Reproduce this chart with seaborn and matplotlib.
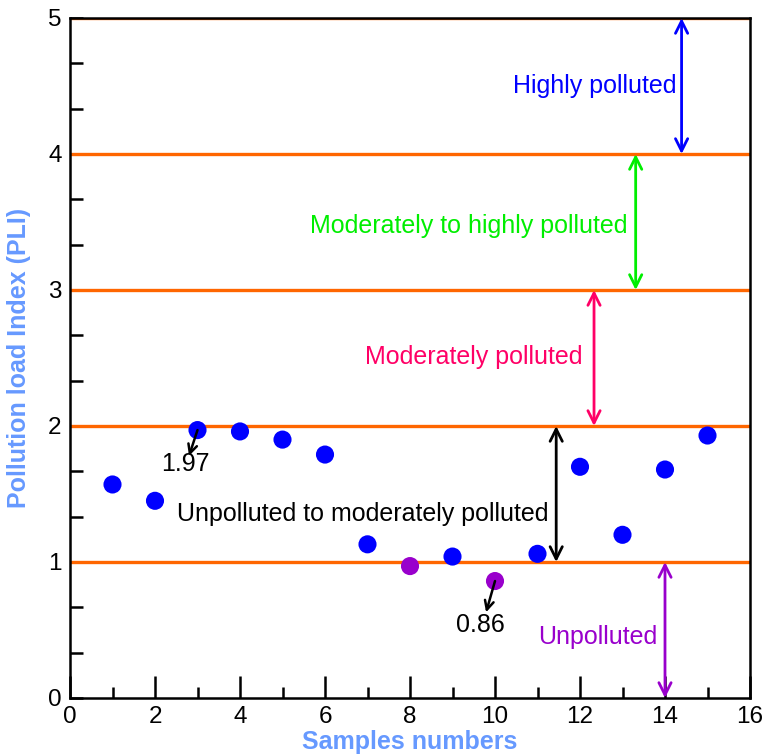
import matplotlib
matplotlib.use("Agg")
import matplotlib.pyplot as plt
import seaborn as sns
import pandas as pd
from matplotlib.ticker import MultipleLocator

# ---- data ----
samples = [1, 2, 3, 4, 5, 6, 7, 8, 9, 10, 11, 12, 13, 14, 15]
pli = [1.57, 1.45, 1.97, 1.96, 1.90, 1.79, 1.13, 0.97, 1.04, 0.86, 1.06, 1.70, 1.20, 1.68, 1.93]
status = ["polluted" if v >= 1 else "unpolluted" for v in pli]

class_bounds = [1, 2, 3, 4, 5]
class_labels = ["Unpolluted", "Unpolluted to moderately polluted", "Moderately polluted",
                "Moderately to highly polluted", "Highly polluted"]
class_ranges = [(0, 1), (1, 2), (2, 3), (3, 4), (4, 5)]
class_colors = ["#9900cc", "#000000", "#ff0066", "#00ee00", "#0000ff"]

callouts = ["1.97", "0.86"]
callout_pts = [(3, 1.97), (10, 0.86)]

# ---- layout (positions of annotations) ----
arrow_x = [14.0, 11.44, 12.33, 13.31, 14.39]
label_x = [13.81, 11.25, 12.07, 13.11, 14.26]
label_y = [0.45, 1.35, 2.51, 3.47, 4.50]
callout_heads = [(2.80, 1.78), (9.79, 0.63)]
callout_text_pos = [(2.72, 1.72), (9.65, 0.54)]

df = pd.DataFrame({"sample": samples, "pli": pli, "status": status})

sns.set_style("ticks")
plt.rcParams["font.family"] = ["Liberation Sans", "DejaVu Sans"]
plt.rcParams["text.color"] = "black"
plt.rcParams["xtick.labelcolor"] = "black"
plt.rcParams["ytick.labelcolor"] = "black"

fig = plt.figure(figsize=(7.75, 7.54), dpi=100)
ax = fig.add_axes([70 / 775, 56 / 754, 680 / 775, 680 / 754])

# class boundary lines
for b in class_bounds:
    ax.axhline(b, color="#ff6600", lw=2.4, zorder=2)

sns.scatterplot(data=df, x="sample", y="pli", hue="status",
                palette={"polluted": "#0000ff", "unpolluted": "#9900cc"},
                s=170, edgecolor="none", legend=False, zorder=4, ax=ax)

# class range arrows and labels
for (lo, hi), xa, lx, ly, lab, col in zip(class_ranges, arrow_x, label_x, label_y,
                                          class_labels, class_colors):
    ax.annotate("", xy=(xa, hi), xytext=(xa, lo),
                arrowprops=dict(arrowstyle="<->", color=col, lw=2.0,
                                mutation_scale=22, shrinkA=0, shrinkB=0),
                zorder=5)
    ax.text(lx, ly, lab, color=col, fontsize=18, ha="right", va="center", zorder=5)

# callouts: arrow from the point toward the value label
for txt, pt, head, tpos in zip(callouts, callout_pts, callout_heads, callout_text_pos):
    ax.annotate("", xy=head, xytext=pt,
                arrowprops=dict(arrowstyle="->", color="black", lw=1.8,
                                mutation_scale=16, shrinkA=0, shrinkB=0),
                zorder=6)
    ax.text(tpos[0], tpos[1], txt, fontsize=18, color="black",
            ha="center", va="center", zorder=6)

ax.set_xlim(0, 16)
ax.set_ylim(0, 5)
ax.xaxis.set_major_locator(MultipleLocator(2))
ax.xaxis.set_minor_locator(MultipleLocator(1))
ax.yaxis.set_major_locator(MultipleLocator(1))
ax.yaxis.set_minor_locator(MultipleLocator(1 / 3))
ax.tick_params(axis="both", which="both", direction="in", width=1.8, color="black",
               labelcolor="black", labelsize=17.5, pad=6)
ax.tick_params(axis="x", which="major", length=16)
ax.tick_params(axis="x", which="minor", length=8)
ax.tick_params(axis="y", which="major", length=9)
ax.tick_params(axis="y", which="minor", length=9)
for sp in ax.spines.values():
    sp.set_visible(True)
    sp.set_linewidth(1.8)
    sp.set_color("black")

ax.set_xlabel("Samples numbers", color="#6699ff", fontsize=18, fontweight="bold", labelpad=1)
ax.set_ylabel("Pollution load Index (PLI)", color="#6699ff", fontsize=18, fontweight="bold", labelpad=12)

fig.savefig("out.png", dpi=100)
